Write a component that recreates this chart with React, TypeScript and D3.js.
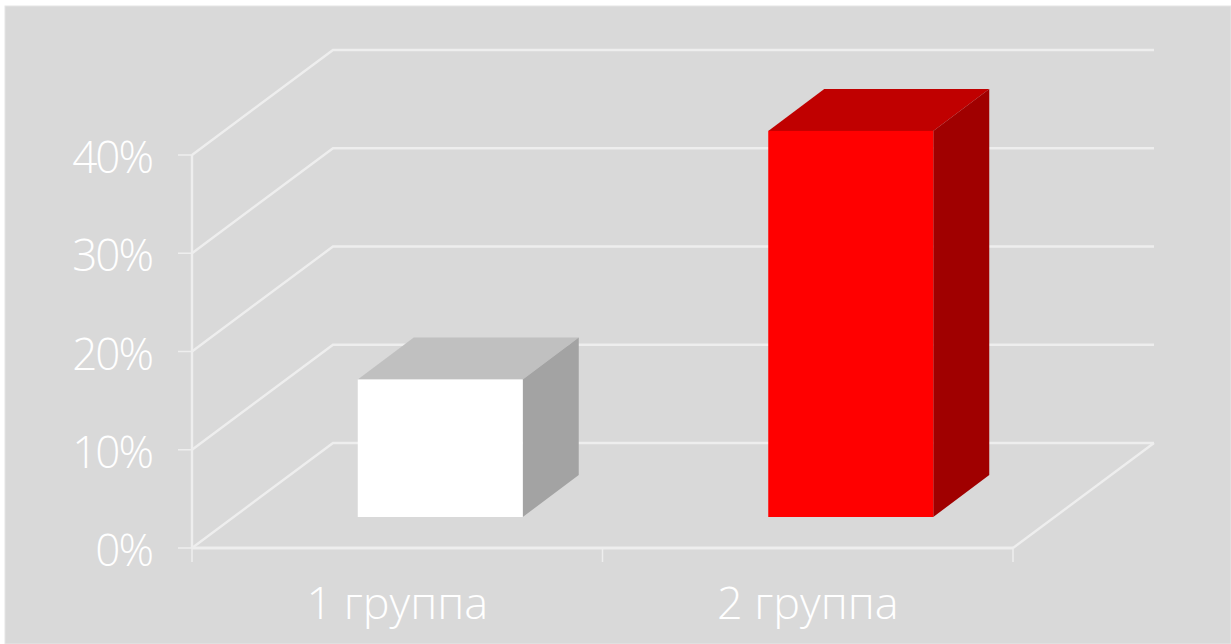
import React from "react";
import * as d3 from "d3";

const categories = ["1 группа", "2 группа"];
const values = [14.0, 39.3];
const yTicks = [0, 10, 20, 30, 40];
const frontColors = ["#ffffff", "#ff0000"];
const topColors = ["#c0c0c0", "#c00000"];
const sideColors = ["#a3a3a3", "#a00000"];

const W = 1231;
const H = 644;
const AXIS = "#eeeeee";
const TEXT = "#ffffff";
const FONT = "'Open Sans', 'Noto Sans', sans-serif";

// Projected depth of the chart box and of each bar
const boxDx = 141;
const boxDy = -105;
const barDx = 56;
const barDy = -42;
const barBaseShift = -31;

const y = d3.scaleLinear().domain([0, 40]).range([548, 155]);
const x = d3.scaleBand<string>().domain(categories).range([192, 1013]).paddingInner(0).paddingOuter(0);
const barWidth = 165;
const barOffset = 43;

const polyline = d3.line<[number, number]>();

export default function App() {
  const x0 = x.range()[0];
  const x1 = x.range()[1];
  return (
    <svg
      width={W}
      height={H}
      viewBox={`0 0 ${W} ${H}`}
      style={{ position: "fixed", left: 0, top: 0, display: "block" }}
    >
      <rect width={W} height={H} fill="#ffffff" />
      <rect x={5} y={6} width={W - 5} height={H - 6} fill="#d9d9d9" stroke="#e6e6e6" strokeWidth={1} />

      {/* Back wall gridlines with their diagonal returns on the side wall */}
      {yTicks.map((t) => (
        <path
          key={`grid-${t}`}
          d={polyline([
            [x0, y(t)],
            [x0 + boxDx, y(t) + boxDy],
            [x1 + boxDx, y(t) + boxDy],
          ]) ?? ""}
          fill="none"
          stroke={AXIS}
          strokeWidth={2.4}
        />
      ))}

      {/* Floor edges */}
      <path
        d={polyline([
          [x1, y(0)],
          [x1 + boxDx, y(0) + boxDy],
        ]) ?? ""}
        fill="none"
        stroke={AXIS}
        strokeWidth={2.4}
      />
      <line x1={x0} x2={x1} y1={y(0)} y2={y(0)} stroke={AXIS} strokeWidth={3} />
      <line x1={x0} x2={x0} y1={y(40)} y2={y(0)} stroke={AXIS} strokeWidth={2.4} />

      {/* Value axis ticks and labels */}
      {yTicks.map((t) => (
        <g key={`tick-${t}`}>
          <line x1={x0 - 14} x2={x0} y1={y(t)} y2={y(t)} stroke={AXIS} strokeWidth={1.5} />
          <text
            x={152}
            y={y(t) + 18}
            textAnchor="end"
            fill={TEXT}
            fontFamily={FONT}
            fontWeight={300}
            fontSize={44}
            letterSpacing={-2}
          >
            {`${t}%`}
          </text>
        </g>
      ))}

      {/* Category axis ticks */}
      {[x0, x0 + x.step(), x1].map((px) => (
        <line key={`xtick-${px}`} x1={px} x2={px} y1={y(0)} y2={y(0) + 14} stroke={AXIS} strokeWidth={1.5} />
      ))}

      {/* Extruded bars */}
      {categories.map((c, i) => {
        const left = (x(c) ?? 0) + (x.bandwidth() - barWidth) / 2 + barOffset;
        const right = left + barWidth;
        const base = y(0) + barBaseShift;
        const top = base - (y(0) - y(values[i]));
        const topFace: [number, number][] = [
          [left, top],
          [right, top],
          [right + barDx, top + barDy],
          [left + barDx, top + barDy],
        ];
        const sideFace: [number, number][] = [
          [right, top],
          [right + barDx, top + barDy],
          [right + barDx, base + barDy],
          [right, base],
        ];
        return (
          <g key={c}>
            <path d={`${polyline(topFace)}Z`} fill={topColors[i]} />
            <path d={`${polyline(sideFace)}Z`} fill={sideColors[i]} />
            <rect x={left} y={top} width={barWidth} height={base - top} fill={frontColors[i]} />
          </g>
        );
      })}

      {/* Category labels */}
      {categories.map((c) => (
        <text
          key={`label-${c}`}
          x={(x(c) ?? 0) + x.bandwidth() / 2}
          y={619}
          textAnchor="middle"
          fill={TEXT}
          fontFamily={FONT}
          fontWeight={300}
          fontSize={45}
        >
          {c}
        </text>
      ))}
    </svg>
  );
}
